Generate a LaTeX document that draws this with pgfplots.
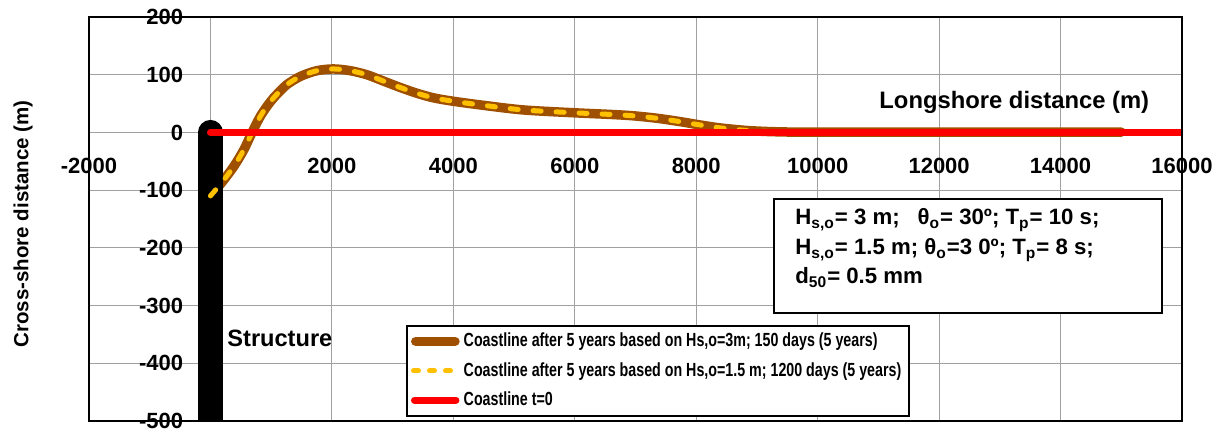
\documentclass[border=0pt]{standalone}
\usepackage{pgfplots}
\pgfplotsset{compat=1.18}
\usepackage{pgfplotstable}
\usepackage{fontspec}
\setmainfont{Liberation Sans}
\newfontfamily\narrowfont[FakeStretch=0.75]{Liberation Sans}
\definecolor{cbrown}{RGB}{158,80,0}
\definecolor{cyellow}{RGB}{255,192,0}
\definecolor{cred}{RGB}{255,0,0}
\definecolor{cgrid}{RGB}{160,160,160}

\pgfplotstableread{
x y
0 -110
200 -85
384 -59
550 -30
685 0
822 28
950 48
1041 60
1150 72
1260 83
1479 97
1753 107
2027 110
2301 107
2575 100
2849 89
3123 78
3397 68
3671 60
4000 54
4493 47
5149 39
6000 34
6628 31
7000 28.5
7395 24
7778 18
8000 14
8381 8
8820 3.5
9200 1.5
9641 0.5
10000 0.5
12000 0.5
15000 0.5
}\coast

\begin{document}
\begin{tikzpicture}
\useasboundingbox (0,0) rectangle (612pt,216pt);
\begin{axis}[
  at={(44.5pt,5.5pt)}, anchor=south west,
  scale only axis, width=546.5pt, height=202pt,
  xmin=-2000, xmax=16000, ymin=-500, ymax=200,
  axis lines=middle,
  axis line style={draw=cgrid, line width=0.6pt, -},
  hide obscured y ticks=false,
  xtick={-2000,2000,4000,6000,8000,10000,12000,14000,16000},
  ytick={-500,-400,-300,-200,-100,0,100,200},
  grid=major, grid style={draw=cgrid, line width=0.6pt},
  major tick style={draw=none},
  tick label style={font=\bfseries\fontsize{11}{13}\selectfont},
  xticklabel style={yshift=-7pt},
  yticklabel style={xshift=-8pt},
  scaled ticks=false,
  /pgf/number format/1000 sep={},
  /pgf/number format/assume math mode=true,
  legend cell align=left,
  legend style={at={(rel axis cs:0.29,0.2376)}, anchor=north west,
    draw=black, line width=1pt, fill=white,
    font=\narrowfont\bfseries\fontsize{9.5}{11}\selectfont,
    inner xsep=2pt, inner ysep=1.5pt, row sep=2.3pt},
]
\addplot[cbrown, line width=4.75pt, smooth, line cap=round,
  legend image code/.code={\draw[cbrown,line width=4.75pt,line cap=round] (2.4pt,0pt) -- (22pt,0pt);}]
  table {\coast};
\addlegendentry{Coastline after 5 years based on Hs,o=3m; 150 days (5 years)}
\addplot[black, line width=12.5pt, line cap=round, forget plot] coordinates {(0,-560) (0,0)};
\addplot[cyellow, line width=2.5pt, smooth, line cap=round, dash pattern=on 4pt off 7.5pt,
  legend image code/.code={\draw[cyellow,line width=2.5pt,line cap=round,dash pattern=on 2.5pt off 5.5pt] (1.25pt,0pt) -- (22pt,0pt);}]
  table {\coast};
\addlegendentry{Coastline after 5 years based on Hs,o=1.5 m; 1200 days (5 years)}
\addplot[cred, line width=3.5pt, line cap=round,
  legend image code/.code={\draw[cred,line width=3.5pt,line cap=round] (1.75pt,0pt) -- (22.5pt,0pt);}]
  coordinates {(0,0) (16000,0)};
\addlegendentry{Coastline t=0}
\end{axis}
\draw[line width=1.3pt] (44.5pt,5.5pt) rectangle (591pt,207.5pt);
\draw[line width=1pt, fill=white] (387pt,59.5pt) rectangle (581pt,116.5pt);
\begin{scope}[every node/.style={anchor=base west, inner sep=0pt, font=\bfseries\fontsize{11.1}{13}\selectfont}]
\node at (397.5pt,103.5pt) {H\textsubscript{s,o}= 3 m;\hspace{9pt}θ\textsubscript{o}= 30º; T\textsubscript{p}= 10 s;};
\node at (397.5pt,88.5pt) {H\textsubscript{s,o}= 1.5 m; θ\textsubscript{o}=3 0º; T\textsubscript{p}= 8 s;};
\node at (397.5pt,74pt) {d\textsubscript{50}= 0.5 mm};
\end{scope}
\node[rotate=90, font=\bfseries\fontsize{10.25}{12}\selectfont] at (11.5pt,104pt) {Cross-shore distance (m)};
\node[anchor=base west, inner sep=0pt, font=\bfseries\fontsize{11.9}{14}\selectfont] at (439.5pt,161.5pt) {Longshore distance (m)};
\node[anchor=base west, inner sep=0pt, font=\bfseries\fontsize{11.8}{14}\selectfont] at (113.5pt,42.5pt) {Structure};
\end{tikzpicture}
\end{document}
